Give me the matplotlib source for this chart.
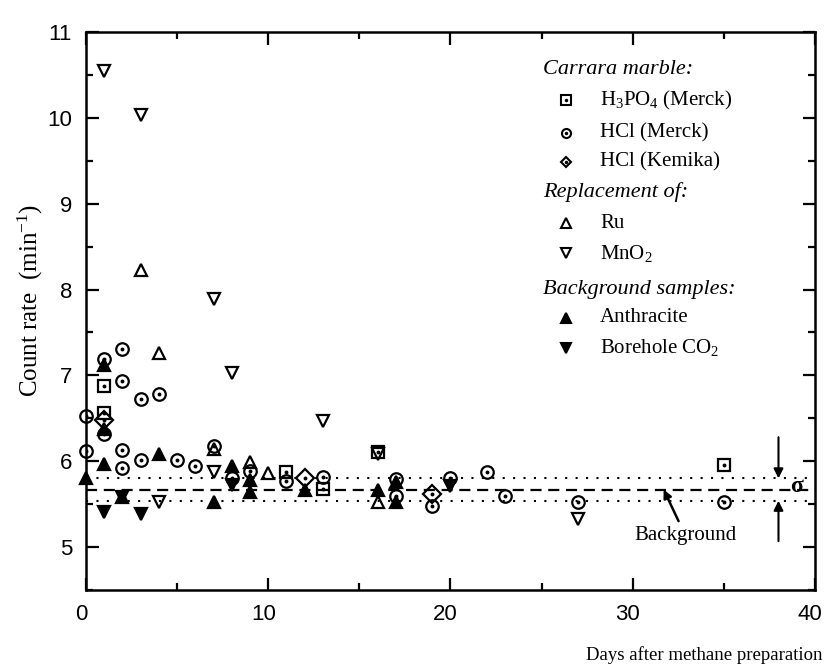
import numpy as np
import matplotlib.pyplot as plt
import matplotlib.transforms as mtransforms

plt.rcParams['font.family'] = ['Liberation Serif', 'DejaVu Serif']
plt.rcParams['mathtext.fontset'] = 'custom'
plt.rcParams['mathtext.rm'] = 'Liberation Serif'
plt.rcParams['mathtext.it'] = 'Liberation Serif:italic'

# Carrara marble, H3PO4 (Merck)
h3po4_days = [1, 1, 11, 13, 16, 35]
h3po4_rate = [6.88, 6.56, 5.88, 5.68, 6.11, 5.96]

# Carrara marble, HCl (Merck)
hcl_merck_days = [0, 0, 1, 1, 2, 2, 2, 2, 3, 3, 4, 5, 6, 7, 8, 9, 11, 13, 17, 17, 19, 20, 22, 23, 27, 35]
hcl_merck_rate = [6.53, 6.12, 7.19, 6.32, 7.31, 6.93, 6.13, 5.92, 6.72, 6.02, 6.78, 6.01, 5.95, 6.18,
                  5.80, 5.89, 5.77, 5.82, 5.59, 5.79, 5.48, 5.80, 5.88, 5.59, 5.52, 5.52]

# Carrara marble, HCl (Kemika)
hcl_kemika_days = [1, 12, 19]
hcl_kemika_rate = [6.48, 5.81, 5.62]

# Replacement of Ru
ru_days = [3, 4, 7, 9, 10, 16]
ru_rate = [8.23, 7.26, 6.14, 5.99, 5.86, 5.53]

# Replacement of MnO2
mno2_days = [1, 3, 7, 8, 13, 4, 7, 16, 27]
mno2_rate = [10.55, 10.03, 7.89, 7.03, 6.47, 5.52, 5.88, 6.08, 5.33]

# Background samples: anthracite
anthr_days = [0, 1, 1, 1, 2, 4, 7, 8, 9, 9, 12, 16, 17, 17]
anthr_rate = [5.80, 7.12, 6.38, 5.97, 5.58, 6.09, 5.52, 5.95, 5.78, 5.64, 5.66, 5.67, 5.76, 5.53]

# Background samples: borehole CO2
bore_days = [1, 2, 3, 8, 20]
bore_rate = [5.41, 5.58, 5.38, 5.72, 5.71]

bg_mean = 5.67
bg_sigma = 0.13

fig = plt.figure(figsize=(8.25, 6.7), dpi=100)
ax = fig.add_axes([0.1042, 0.1194, 0.8836, 0.8328])

ms = 9
mew = 1.6


def draw(x, y, marker, filled=False, dot=False):
    ax.plot(x, y, ls='none', marker=marker, ms=ms, mew=mew, mec='black',
            mfc='black' if filled else 'none', zorder=3, clip_on=False)
    if dot:
        ax.plot(x, y, ls='none', marker='o', ms=1.8, color='black', zorder=4)


draw(h3po4_days, h3po4_rate, 's', dot=True)
draw(hcl_merck_days, hcl_merck_rate, 'o', dot=True)
draw(hcl_kemika_days, hcl_kemika_rate, 'D', dot=True)
draw(ru_days, ru_rate, '^')
draw(mno2_days, mno2_rate, 'v')
draw(anthr_days, anthr_rate, '^', filled=True)
draw(bore_days, bore_rate, 'v', filled=True)

# background level and +/- sigma band
ax.axhline(bg_mean, color='black', lw=1.6, ls=(0, (5, 3)), zorder=2)
ax.axhline(bg_mean + bg_sigma, color='black', lw=1.5, ls=(0, (1, 4)), zorder=2)
ax.axhline(bg_mean - bg_sigma, color='black', lw=1.5, ls=(0, (1, 4)), zorder=2)

arrow = dict(arrowstyle='-|>', color='black', lw=1.5, mutation_scale=14, shrinkA=0, shrinkB=0)
ax.annotate('', xy=(38, bg_mean + bg_sigma), xytext=(38, 6.28), arrowprops=arrow)
ax.annotate('', xy=(38, bg_mean - bg_sigma), xytext=(38, 5.07), arrowprops=arrow)
ax.text(39.0, bg_mean + 0.03, 'σ', fontsize=17, fontweight='bold', ha='center', va='center')

ax.annotate('Background', xy=(31.7, bg_mean), xytext=(32.9, 5.13), fontsize=15,
            ha='center', va='center',
            arrowprops=dict(arrowstyle='-|>', color='black', lw=1.8, mutation_scale=12,
                            shrinkA=2, shrinkB=0))

ax.set_xlim(0, 40)
ax.set_ylim(4.5, 11)
ax.set_xticks([0, 10, 20, 30, 40])
ax.set_xticks([5, 15, 25, 35], minor=True)
ax.set_yticks([5, 6, 7, 8, 9, 10, 11])
ax.set_yticks([4.5, 5.5, 6.5, 7.5, 8.5, 9.5, 10.5], minor=True)
ax.tick_params(which='both', direction='in', top=True, right=True, width=1.6)
ax.tick_params(which='major', length=9, pad=10)
ax.tick_params(which='minor', length=5)
shift = mtransforms.ScaledTranslation(-5 / 100, 0, fig.dpi_scale_trans)
for lab in ax.get_xticklabels():
    lab.set_transform(lab.get_transform() + shift)
for lab in ax.get_xticklabels() + ax.get_yticklabels():
    lab.set_fontfamily('Liberation Sans')
    lab.set_fontsize(16)
for s in ax.spines.values():
    s.set_linewidth(1.8)

fig.text(30 / 825, 1 - 300 / 670, 'Count rate  (min$^{-1}$)', rotation=90,
         fontsize=18, ha='center', va='center')
fig.text(822 / 825, 1 - 655 / 670, 'Days after methane preparation', fontsize=13.5,
         ha='right', va='center')

# legend drawn by hand, grouped under italic headings
def fx(px):
    return px / 825


def fy(py):
    return 1 - py / 670


heads = [('Carrara marble:', 70), ('Replacement of:', 192), ('Background samples:', 290)]
for txt, py in heads:
    fig.text(fx(543), fy(py), txt, fontsize=16, style='italic', va='center', ha='left')

items = [('s', False, True, 'H$_3$PO$_4$ (Merck)', 100),
         ('o', False, True, 'HCl (Merck)', 133),
         ('D', False, True, 'HCl (Kemika)', 162),
         ('^', False, False, 'Ru', 223),
         ('v', False, False, 'MnO$_2$', 253),
         ('^', True, False, 'Anthracite', 318),
         ('v', True, False, 'Borehole CO$_2$', 348)]
for mk, filled, dot, txt, py in items:
    m = 5.5 if mk == 'D' else 6.5
    fig.lines.append(plt.Line2D([fx(566)], [fy(py)], marker=mk, ms=m, mew=1.5, mec='black',
                                mfc='black' if filled else 'none', ls='none',
                                transform=fig.transFigure))
    if dot:
        fig.lines.append(plt.Line2D([fx(566)], [fy(py)], marker='o', ms=1.5, color='black',
                                    ls='none', transform=fig.transFigure))
    fig.text(fx(600), fy(py), txt, fontsize=15, va='center', ha='left')

fig.savefig('out.png', dpi=100)
